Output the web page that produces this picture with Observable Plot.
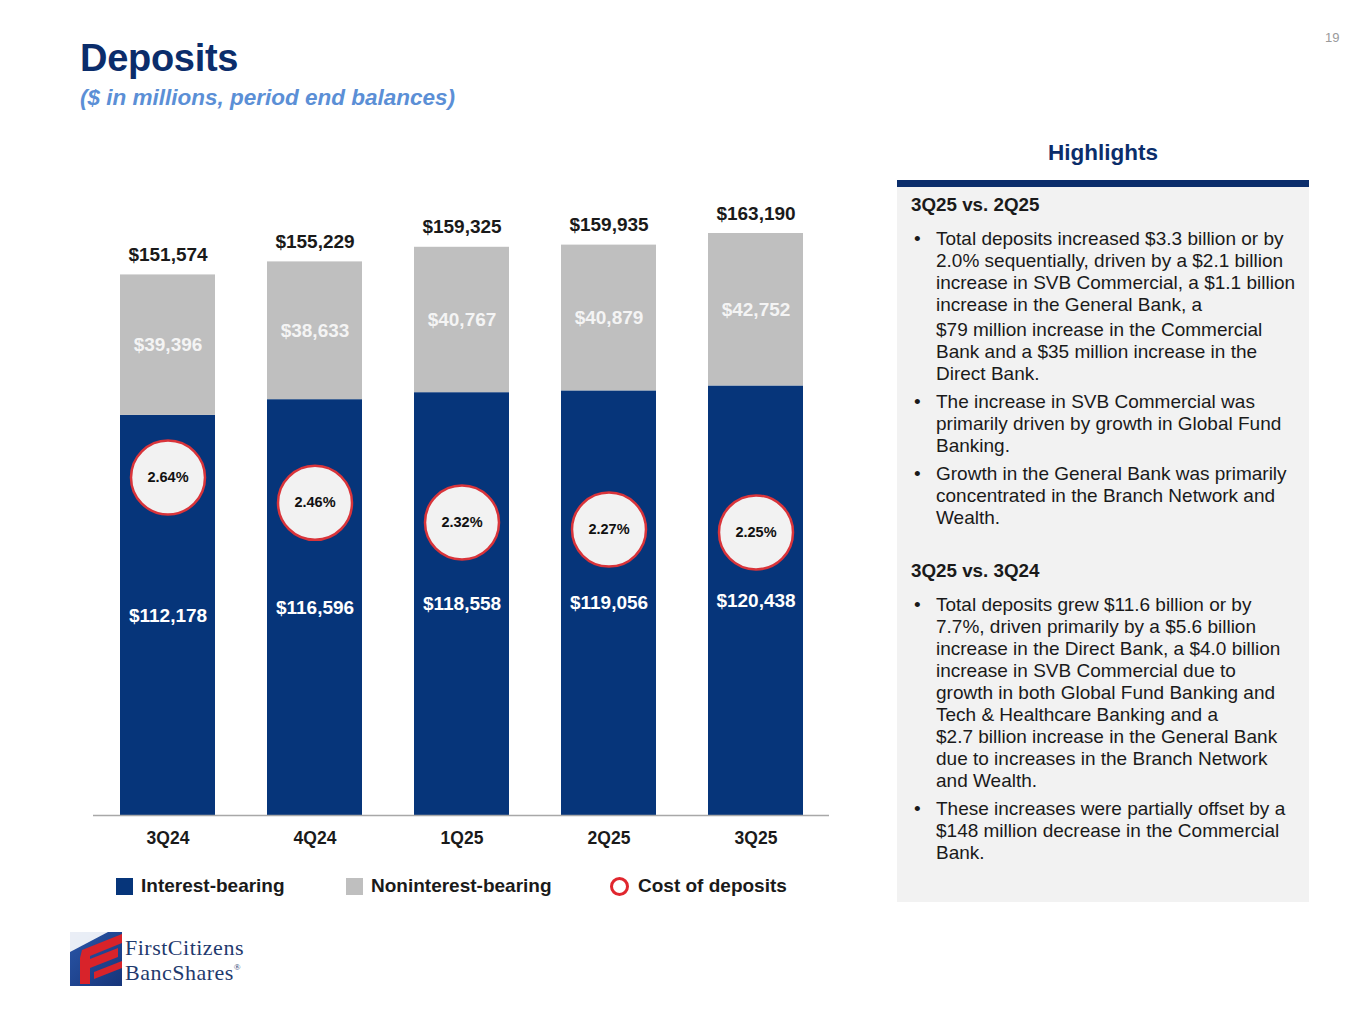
<!DOCTYPE html>
<html>
<head>
<meta charset="utf-8">
<script src="https://cdn.jsdelivr.net/npm/d3@7"></script>
<script src="https://cdn.jsdelivr.net/npm/@observablehq/plot@0.6"></script>
<style>
  html, body { margin: 0; padding: 0; background: #fff; }
  body { width: 1365px; height: 1024px; position: relative; overflow: hidden; font-family: "Liberation Sans", Arial, sans-serif; }
  .abs { position: absolute; }
  #title { left: 80px; top: 37px; font-size: 38px; font-weight: bold; color: #0b2d6b; letter-spacing: -0.3px; }
  #subtitle { left: 80px; top: 85px; font-size: 22.5px; font-weight: bold; font-style: italic; color: #5b8fd6; }
  #pagenum { left: 1325px; top: 30px; font-size: 13px; color: #9a9a9a; }
  #chart { left: 0px; top: 180px; }
  #legend { left: 116px; top: 875px; font-size: 19px; font-weight: bold; color: #1a1a1a; }
  .lg { position: absolute; white-space: nowrap; display: flex; align-items: center; }
  .sw { display: inline-block; width: 17px; height: 17px; margin-right: 8px; }
  .ring { display: inline-block; width: 13px; height: 13px; border: 3px solid #e0262e; border-radius: 50%; margin-right: 9px; }
  #hl-title { left: 897px; width: 412px; top: 140px; text-align: center; font-size: 22.5px; font-weight: bold; color: #0b2d6b; }
  #hl-bar { left: 897px; top: 180px; width: 412px; height: 7px; background: #0b2d6b; }
  #hl-panel { left: 897px; top: 187px; width: 412px; height: 715px; background: #f2f2f2; }
  #hl-text { left: 911px; top: 194px; width: 398px; font-size: 19px; line-height: 22px; color: #1a1a1a; }
  .hd { font-weight: bold; font-size: 18.8px; margin-bottom: 12px; }
  .bl { position: relative; padding-left: 25px; margin-bottom: 6px; white-space: nowrap; }
  .bl::before { content: "•"; position: absolute; left: 3px; top: 0; }
  #logo { left: 68px; top: 928px; }
</style>
</head>
<body>
<div id="title" class="abs">Deposits</div>
<div id="subtitle" class="abs">($ in millions, period end balances)</div>
<div id="pagenum" class="abs">19</div>
<div id="chart" class="abs"></div>

<div id="legend" class="abs">
  <div class="lg" style="left:0px;top:0px"><span class="sw" style="background:#06357a"></span>Interest-bearing</div>
  <div class="lg" style="left:230px;top:0px"><span class="sw" style="background:#bfbfbf"></span>Noninterest-bearing</div>
  <div class="lg" style="left:494px;top:0px"><span class="ring"></span>Cost of deposits</div>
</div>

<div id="hl-title" class="abs">Highlights</div>
<div id="hl-bar" class="abs"></div>
<div id="hl-panel" class="abs"></div>
<div id="hl-text" class="abs">
  <div class="hd">3Q25 vs. 2Q25</div>
  <div class="bl">Total deposits increased $3.3 billion or by<br>2.0% sequentially, driven by a $2.1 billion<br>increase in SVB Commercial, a $1.1 billion<br>increase in the General Bank, a<br><span style="display:inline-block;margin-top:3px">$79 million increase in the Commercial</span><br>Bank and a $35 million increase in the<br>Direct Bank.</div>
  <div class="bl">The increase in SVB Commercial was<br>primarily driven by growth in Global Fund<br>Banking.</div>
  <div class="bl">Growth in the General Bank was primarily<br>concentrated in the Branch Network and<br>Wealth.</div>
  <div class="hd" style="margin-top:31px">3Q25 vs. 3Q24</div>
  <div class="bl">Total deposits grew $11.6 billion or by<br>7.7%, driven primarily by a $5.6 billion<br>increase in the Direct Bank, a $4.0 billion<br>increase in SVB Commercial due to<br>growth in both Global Fund Banking and<br>Tech &amp; Healthcare Banking and a<br>$2.7 billion increase in the General Bank<br>due to increases in the Branch Network<br>and Wealth.</div>
  <div class="bl">These increases were partially offset by a<br>$148 million decrease in the Commercial<br>Bank.</div>
</div>

<div id="logo" class="abs">
  <svg width="200" height="62" viewBox="0 0 200 62">
    <defs>
      <linearGradient id="lgb" x1="0" y1="0" x2="1" y2="1">
        <stop offset="0" stop-color="#2a56a8"/>
        <stop offset="1" stop-color="#16357a"/>
      </linearGradient>
    </defs>
    <rect x="2" y="4" width="52" height="54" fill="url(#lgb)"/>
    <polygon points="2,4 40,4 2,24" fill="#ffffff" opacity="0.9"/>
    <polygon points="14,22 54,6 54,15 22,28 22,31 50,20 50,29 22,40 22,56 12,56 12,30" fill="#d8232a"/>
    <polygon points="26,44 54,33 54,40 26,51" fill="#d8232a"/>
    <text x="57" y="27" font-family="Liberation Serif, DejaVu Serif, serif" font-size="22" fill="#1f3a6e" letter-spacing="0.5">FirstCitizens</text>
    <text x="57" y="52" font-family="Liberation Serif, DejaVu Serif, serif" font-size="22" fill="#1f3a6e" letter-spacing="0.5">BancShares<tspan font-size="9" dy="-10">®</tspan></text>
  </svg>
</div>

<script>
// ---- data ----
const quarters = ["3Q24", "4Q24", "1Q25", "2Q25", "3Q25"];
const interestBearing = [112178, 116596, 118558, 119056, 120438];
const nonInterestBearing = [39396, 38633, 40767, 40879, 42752];
const totalDeposits = [151574, 155229, 159325, 159935, 163190];
const costOfDeposits = [2.64, 2.46, 2.32, 2.27, 2.25];
const seriesNames = ["Interest-bearing", "Noninterest-bearing"];
const seriesColors = ["#06357a", "#bfbfbf"];

// ---- tables ----
const fmt = d3.format("$,");
const rows = [];
quarters.forEach((q, i) => {
  rows.push({q, type: seriesNames[0], value: interestBearing[i], mid: interestBearing[i] / 2});
});
quarters.forEach((q, i) => {
  rows.push({q, type: seriesNames[1], value: nonInterestBearing[i], mid: interestBearing[i] + nonInterestBearing[i] / 2});
});
const totals = quarters.map((q, i) => ({q, total: totalDeposits[i]}));
// secondary axis for cost of deposits, mapped into the deposit scale
const costAxis = d3.scaleLinear().domain([2.0, 3.0]).range([69500, 109000]);
const costs = quarters.map((q, i) => ({q, cost: costOfDeposits[i], y: costAxis(costOfDeposits[i])}));

const chart = Plot.plot({
  width: 870,
  height: 680,
  marginLeft: 67,
  marginRight: 14,
  marginTop: 53,
  marginBottom: 45,
  style: {fontFamily: "Liberation Sans, Arial, sans-serif", background: "transparent"},
  x: {domain: quarters, padding: 0.355, label: null},
  y: {domain: [0, d3.max(totalDeposits)], axis: null},
  color: {domain: seriesNames, range: seriesColors},
  marks: [
    Plot.barY(rows, {x: "q", y: "value", fill: "type", order: seriesNames}),
    Plot.ruleY([0], {stroke: "#a8a8a8", strokeWidth: 1.5, insetLeft: 26, insetRight: 27}),
    Plot.text(rows, {x: "q", y: "mid", text: d => fmt(d.value), fill: d => d.type === seriesNames[0] ? "#ffffff" : "#f4f4f4", fontSize: 19, fontWeight: "bold"}),
    Plot.text(totals, {x: "q", y: "total", text: d => fmt(d.total), dy: -20, fontSize: 19, fontWeight: "bold", fill: "#1a1a1a"}),
    Plot.dot(costs, {x: "q", y: "y", r: 37, fill: "#f2f2f2", stroke: "#d9343a", strokeWidth: 2.5}),
    Plot.text(costs, {x: "q", y: "y", text: d => d.cost.toFixed(2) + "%", fontSize: 14.5, fontWeight: "bold", fill: "#111"}),
    Plot.axisX({tickSize: 0, tickPadding: 16, fontSize: 17.5, fontWeight: "bold", fill: "#1a1a1a"})
  ]
});
document.getElementById("chart").appendChild(chart);
</script>
</body>
</html>
